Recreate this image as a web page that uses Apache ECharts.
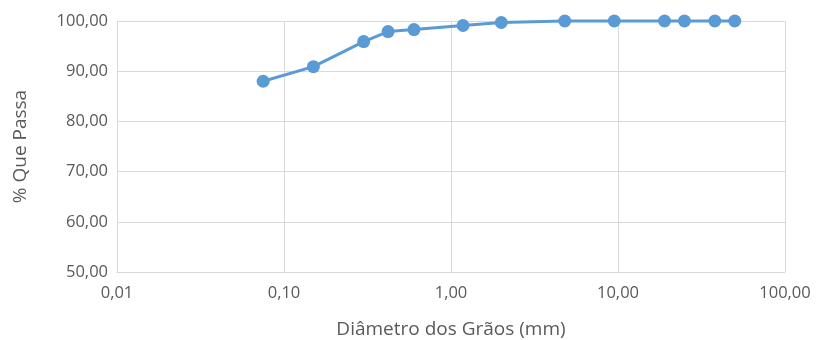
<!DOCTYPE html>
<html><head><meta charset="utf-8">
<script src="https://cdn.jsdelivr.net/npm/echarts@6/dist/echarts.min.js"></script>
<style>html,body{margin:0;padding:0;background:#fff}#c{width:818px;height:340px}</style>
</head><body><div id="c"></div>
<script>
var diameters = [0.075, 0.15, 0.3, 0.42, 0.6, 1.18, 2.0, 4.8, 9.5, 19, 25, 38, 50];
var passing = [88.0, 90.9, 95.9, 97.9, 98.3, 99.1, 99.7, 100, 100, 100, 100, 100, 100];
var xTitle = 'Diâmetro dos Grãos (mm)';
var yTitle = '% Que Passa';

var fmt = function (v) { return v.toFixed(2).replace('.', ','); };
var font = '"Open Sans", "Noto Sans", sans-serif';
var chart = echarts.init(document.getElementById('c'));
chart.setOption({
  animation: false,
  grid: { left: 117, right: 33, top: 21, bottom: 68, containLabel: false, outerBoundsMode: 'none' },
  xAxis: {
    type: 'log', logBase: 10, min: 0.01, max: 100,
    name: xTitle, nameLocation: 'middle', nameGap: 48,
    nameTextStyle: { color: '#595959', fontSize: 19, fontFamily: font },
    axisLine: { show: true, lineStyle: { color: '#d9d9d9', width: 1 } },
    axisTick: { show: false },
    splitLine: { show: true, lineStyle: { color: '#d9d9d9', width: 1 } },
    minorTick: { show: false },
    axisLabel: { color: '#595959', fontSize: 16.5, fontFamily: font, margin: 13, formatter: fmt }
  },
  yAxis: {
    type: 'value', min: 50, max: 100, interval: 10,
    name: yTitle, nameLocation: 'middle', nameGap: 87, nameRotate: 90,
    nameTextStyle: { color: '#595959', fontSize: 19, fontFamily: font },
    axisLine: { show: true, lineStyle: { color: '#d9d9d9', width: 1 } },
    axisTick: { show: false },
    splitLine: { show: true, lineStyle: { color: '#d9d9d9', width: 1 } },
    axisLabel: { color: '#595959', fontSize: 16.5, fontFamily: font, margin: 9, formatter: fmt }
  },
  series: [{
    type: 'line',
    data: diameters.map(function (d, i) { return [d, passing[i]]; }),
    symbol: 'circle', symbolSize: 13,
    lineStyle: { color: '#5b9bd5', width: 3 },
    itemStyle: { color: '#5b9bd5' },
    clip: false
  }]
});
</script></body></html>
